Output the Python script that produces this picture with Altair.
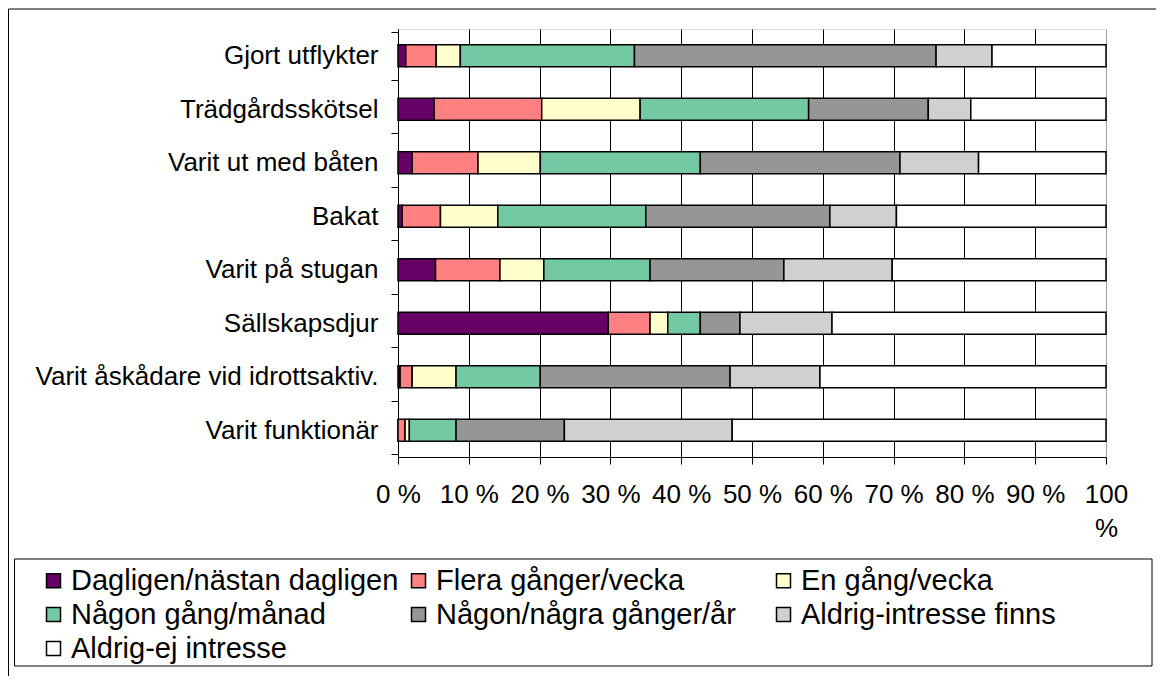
import altair as alt
import pandas as pd

categories = [
    "Gjort utflykter",
    "Trädgårdsskötsel",
    "Varit ut med båten",
    "Bakat",
    "Varit på stugan",
    "Sällskapsdjur",
    "Varit åskådare vid idrottsaktiv.",
    "Varit funktionär",
]
series = [
    "Dagligen/nästan dagligen",
    "Flera gånger/vecka",
    "En gång/vecka",
    "Någon gång/månad",
    "Någon/några gånger/år",
    "Aldrig-intresse finns",
    "Aldrig-ej intresse",
]
# percent values per series, in category order
dagligen = [1.1, 5.1, 2.0, 0.6, 5.3, 29.7, 0.3, 0.0]
flera_per_vecka = [4.3, 15.2, 9.3, 5.4, 9.1, 5.9, 1.7, 1.0]
en_per_vecka = [3.4, 13.9, 8.8, 8.1, 6.2, 2.5, 6.2, 0.6]
per_manad = [24.6, 23.8, 22.6, 20.9, 15.0, 4.6, 11.9, 6.6]
per_ar = [42.6, 16.9, 28.2, 26.0, 18.9, 5.6, 26.8, 15.3]
aldrig_intresse = [7.9, 6.0, 11.1, 9.4, 15.3, 13.0, 12.7, 23.7]
aldrig_ej = [16.1, 19.1, 18.0, 29.6, 30.2, 38.7, 40.4, 52.8]
colors = ["#660066", "#FF8080", "#FFFFCC", "#72C9A3", "#969696", "#D0D0D0", "#FFFFFF"]
x_ticks = [i / 10 for i in range(11)]

all_series = [dagligen, flera_per_vecka, en_per_vecka, per_manad, per_ar, aldrig_intresse, aldrig_ej]
rows = []
for si, (name, vals) in enumerate(zip(series, all_series)):
    for cat, v in zip(categories, vals):
        rows.append({"cat": cat, "serie": name, "order": si, "value": v / 100.0})
df = pd.DataFrame(rows)

FONT = "Liberation Sans"

bars = alt.Chart(df).mark_bar(size=22, stroke="black", strokeWidth=1.5).encode(
    x=alt.X(
        "value:Q",
        stack="zero",
        scale=alt.Scale(domain=[0, 1], nice=False),
        axis=alt.Axis(
            values=x_ticks,
            labelExpr="datum.value >= 1 ? ['100', '%'] : format(datum.value * 100, 'd') + ' %'",
            title=None,
            grid=True,
            gridColor=alt.condition("datum.value >= 1", alt.value("#A0A0A0"), alt.value("black")),
            gridOpacity=1,
            gridWidth=1,
            tickSize=7,
            tickColor="black",
            domainColor="black",
            labelFontSize=26,
            labelFont=FONT,
            labelColor="black",
            labelPadding=17,
            labelLineHeight=34,
            labelFlush=False,
            labelOverlap=False,
        ),
    ),
    y=alt.Y(
        "cat:N",
        sort=categories,
        axis=alt.Axis(
            title=None,
            tickBand="extent",
            tickSize=7,
            tickColor="black",
            domainColor="black",
            labelFontSize=26,
            labelFont=FONT,
            labelColor="black",
            labelPadding=13,
            labelLimit=600,
        ),
    ),
    color=alt.Color(
        "serie:N",
        scale=alt.Scale(domain=series, range=colors),
        legend=alt.Legend(
            title=None,
            orient="none",
            legendX=-359,
            legendY=537,
            direction="horizontal",
            columns=3,
            gridAlign="all",
            columnPadding=5,
            rowPadding=4,
            symbolType="square",
            symbolSize=196,
            symbolStrokeColor="black",
            symbolStrokeWidth=1.5,
            labelFontSize=29,
            labelFont=FONT,
            labelColor="black",
            labelOffset=3,
            labelLimit=600,
        ),
    ),
    order=alt.Order("order:Q"),
)

one = pd.DataFrame({"a": [0]})
frame_left = alt.Chart(one).mark_rule(color="black", strokeWidth=1).encode(
    x=alt.value(-389.5), y=alt.value(-20), y2=alt.value(700)
)
frame_top = alt.Chart(one).mark_rule(color="black", strokeWidth=1).encode(
    x=alt.value(-389.5), x2=alt.value(800), y=alt.value(-20)
)
legend_box = alt.Chart(one).mark_rect(fillOpacity=0, stroke="black", strokeWidth=1).encode(
    x=alt.value(-383.5), x2=alt.value(754), y=alt.value(530), y2=alt.value(637)
)

chart = alt.layer(frame_left, frame_top, legend_box, bars).properties(
    width=708,
    height=428,
    padding={"left": 390, "top": 21, "right": 50, "bottom": 219},
    autosize=alt.AutoSizeParams(type="none"),
).configure_view(stroke="#A0A0A0", strokeWidth=1).configure(background="white")

chart.save("out.html", embed_options={"renderer": "svg", "actions": False})
